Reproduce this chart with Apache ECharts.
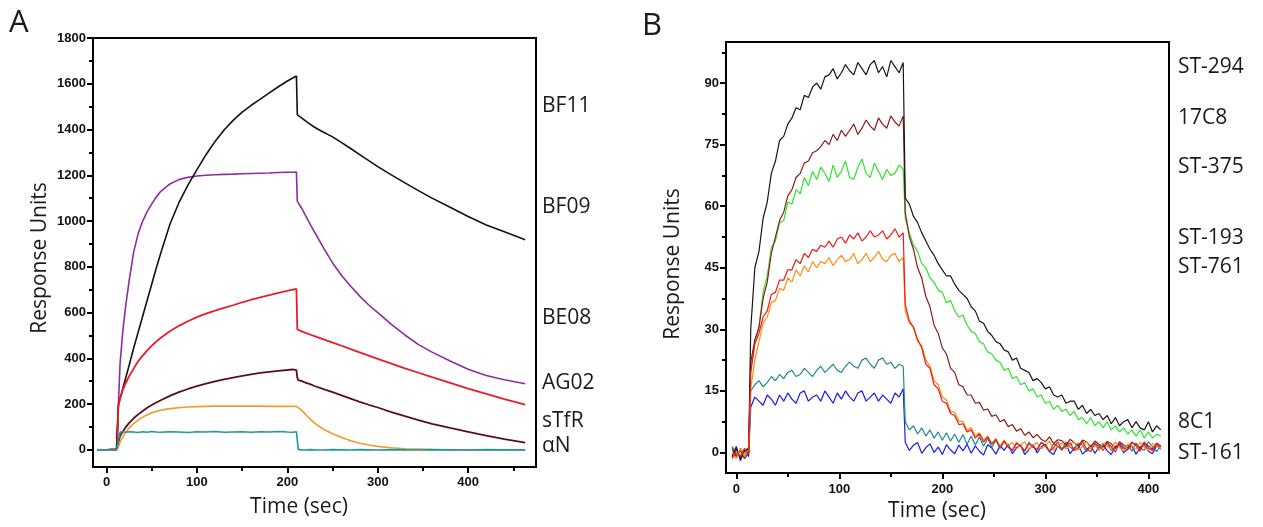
<!DOCTYPE html>
<html><head><meta charset="utf-8">
<script src="https://cdn.jsdelivr.net/npm/echarts@6/dist/echarts.min.js"></script>
<style>html,body{margin:0;padding:0;background:#fff}#c{width:1263px;height:527px}</style>
</head><body><div id="c"></div>
<script>
// ---------- Panel A data (time in sec, response units) ----------
const tA = [-10,0,11,12,13, 15,18,21,25,30, 35,40,45,50,55, 60,70,80,90,100,
  110,120,130,140,150, 160,170,180,190,200, 206,210,211,212,216, 220,225,230,240,250,
  260,270,280,290,300, 315,330,345,360,380, 400,420,440,463];
const BF11 = [0,0,2,10,192, 225,268,312,370,445, 515,585,655,725,795, 860,985,1080,1157,1225,
  1290,1348,1398,1440,1476, 1506,1533,1560,1587,1612, 1625,1634,1464,1461,1450, 1438,1424,1410,1388,1368,
  1343,1317,1290,1264,1238, 1202,1167,1133,1100,1060, 1020,983,953,918];
const BF09 = [0,0,2,10,192, 380,520,625,740,865, 945,1000,1042,1075,1105, 1130,1162,1181,1191,1197,
  1200,1202,1204,1205,1207, 1208,1209,1210,1212,1213, 1213,1214,1086,1080,1055, 1025,988,952,883,817,
  762,715,672,633,600, 548,502,460,427,388, 352,325,306,289];
const BE08 = [0,0,3,12,192, 225,262,290,322,355, 388,412,435,455,473, 490,518,542,562,580,
  595,608,620,632,645, 656,666,676,686,695, 700,703,526,524,518, 511,504,497,483,469,
  455,440,426,412,398, 377,356,337,318,293, 268,245,222,198];
const AG02 = [0,0,0,3,30, 62,80,98,118,138, 155,170,184,196,207, 217,236,252,266,278,
  289,299,308,316,323, 330,336,341,345,349, 352,348,315,305,300, 294,287,279,265,252,
  238,224,210,197,185, 165,147,130,114,96, 79,62,47,32];
const sTfR = [0,0,0,0,10, 35,58,75,95,115, 130,143,153,162,168, 173,180,184,187,189,
  190,191,191,191,191, 191,191,190,190,190, 190,190,189,187,172, 155,135,117,90,70,
  54,40,29,21,15, 9,5,3,1,0, 0,0,0,0];
const aN = [0,0,0,0,40, 78,80,77,79,78, 76,79,77,80,78, 77,79,78,76,79,
  78,80,77,78,79, 77,79,78,80,78, 77,79,78,2,0, -1,1,0,-1,1,
  0,-1,1,0,-1, 1,0,-1,1,0, -1,1,0,0];

// ---------- Panel B data ----------
const tB = [-4,0,4,8,12,
  14,18,22,26,30,34,38,42, 46,50,54,58,62,66,70,74, 78,82,86,90,94,98,102,106,
  110,114,118,122,126,130,134,138, 142,146,150,154,158,162,
  164,168,172,176,180,184,188,192, 196,200,204,208,212,216,220,224,
  228,232,236,240,244,248,252,256, 260,264,268,272,276,280,284,288,
  292,296,300,304,308,312,316,320, 324,328,332,336,340,344,348,352,
  356,360,364,368,372,376,380,384, 388,392,396,400,404,408,412];
const ST294 = [-1,1,-1.5,0.5,1,
  30,45,49,57,61,68,71,76, 77,80,81.5,84,83.5,87,86.5,89, 90,88.5,91.5,92,93.5,91,92.5,94.5,
  93,92,95,93.5,92,94.5,95.5,92.5, 94,91.5,95.5,94,92.5,95,
  62,60.5,57.5,56,53.5,51.5,49.5,48, 46,44.5,43,43,41,39.5,38.5,37.5,
  35.5,34.5,32,31.5,29.5,28.5,27,26.5, 25,24.5,22.5,23,20.5,20,19.5,17.5,
  18,17,15.5,16,14,13.5,14,12, 12.5,12.5,10.5,11.5,9.5,10.5,9,9.5,
  8,9,7,8.5,6.5,7.5,8,6, 7.5,6,5.5,7.5,5,6.5,5.5];
const C17C8 = [1,-1,0.5,-1.5,0,
  22,27.5,30.5,37.5,41.5,48.5,52.5,56.5, 58.5,62.5,64,67,68,70.5,71,73, 73.5,74.5,76,75,77.5,76,78.5,77,
  78.5,80,77.5,79,81,79.5,78.5,81.5, 80,79,82,80.5,79.5,82,
  58.5,52.5,49.5,45,42.5,38,35.5,31, 29,25.5,24,20.5,19.5,16.5,16,14,
  14,12,12.2,10.3,10.6,8.8,9.2,7.5, 8,6.3,6.8,5.2,5.8,4.2,5,3.6,
  4.4,3.2,2.6,3.8,2.2,3.1,2.9,1.8, 3.2,2.4,1.5,3,2.6,1.4,2.8,2,
  1.3,2.7,2.1,1,2.6,1.8,1.2,2.5, 1.9,1,2.4,1.6,0.8,2.3,1.5];
const ST375 = [0.5,-1,1,-0.5,1.5,
  20,26.5,30.5,39,43,50,51.5,56, 56.5,61,60.5,64,63,67,65,68.5, 66.5,69.5,68,66,70,67,68.5,71,
  67,66.5,69.5,71.5,68,67,70.5,68.5, 66.5,69,67.5,68,70,69,
  57,53.5,50.5,49,46,45,42.5,41.5, 39.5,39,36.5,37,34.5,33,33.5,31,
  29.5,29,27,26.5,24.5,24,22.5,22, 20,20.5,18,18.5,16.5,17,15,15.5,
  13.5,14,12,12.5,10.5,11.5,10,10.5, 9,10,8,8.5,7,8.5,6.5,7.5,
  6,7.5,5.5,6.5,5,6,4.5,5.5, 4,5.5,3.5,5,3.5,4.5,4];
const ST193 = [-1.5,0.5,-1,1,-0.5,
  19.5,26.5,29,33,34.5,38.5,39,42, 42,44.5,44.5,47,46,48.5,47.5,49.5, 49,50.5,50,51.5,50,52,52.5,51,
  53,52,53.5,51.5,52.5,54,52.5,53, 54,52,53,54.5,52.5,53.5,
  36,32,30.5,27.5,25.5,21.5,20.5,16.5, 15.5,12.5,12,9.5,9,6.8,7,5,
  5.5,3.5,4.5,2.5,3.8,2,3.2,1.2, 2.8,1.2,0.5,2.4,1.5,0.3,2.2,1.4,
  0.6,2.5,1.8,0.2,1.2,2.6,0.8,1.5, 2.4,0.4,1.1,2.7,0.9,0.2,2.2,1.6,
  0.5,2.3,1.4,0.1,2.5,1.2,0.6,2.4, 1.7,0.3,2.6,1.1,0.4,2.2,1.3];
const ST761 = [0,-1.5,1,-1,0.5,
  15.5,22.5,27,31.5,33,36.5,37,40, 39.5,42.5,41.5,44.5,43,45.5,44,46.5, 45,46.5,46,47.5,45.5,47,48,46.5,
  47,48.5,46,47,48.5,46.5,47.5,49, 47,46.5,48,48.5,46.5,47.5,
  34.5,31.5,30.5,27,26,22.5,21,17.5, 16.5,13.5,12.8,10,9.8,7.6,7.6,5.5,
  6,4,4.8,3,4,2.2,3.4,1.5, 3,1.6,2.5,0.8,1.9,2.6,0.7,1.8,
  2.4,0.9,1.5,2.8,0.5,1.6,2.3,0.8, 1.9,2.6,0.6,1.4,2.7,0.9,1.8,0.4,
  2.3,1.5,0.7,2.6,1.2,0.3,2.1,1.6, 0.8,2.5,1.3,0.5,2.2,1.5,0.9];
const C8C1 = [1.5,-0.5,0.5,-1,1,
  15,16.5,17.5,16,17,18.5,17.5,19, 18,19.5,20,18.5,19,20.5,19.5,18.5, 20,21,19.5,20.5,21.5,20,19.5,21,
  22,21,20.5,22.5,23,21.5,20.5,22.5, 23,21.5,22,20.5,21.5,21,
  7.5,5.5,6.5,4.5,6,4,5.5,3.5, 5,3,4.8,2.8,4.5,2.5,4.4,2,
  4,1.8,3.8,1.5,3.4,1.2,3,1, 2.6,1.4,0.6,2.2,1.7,0.4,2.5,1.2,
  0.8,2.4,1.5,0.3,2.1,1.6,0.5,2.6, 1.3,0.6,2.3,1.8,0.2,1.5,2.4,0.7,
  1.6,2.5,0.4,1.2,2.2,0.8,1.9,0.3, 2.3,1.1,0.5,2.6,1.4,0.2,1.8];
const ST161 = [-1,1.5,-2,0.5,-1,
  11,13.5,12.5,11.5,14,13,11.5,14, 12.5,14.5,13,12,14.5,15,12.5,13.5, 14,12.5,15,13.5,12,14.5,13,15,
  13.5,12.5,14.5,15,12.5,13.5,14.5,12.5, 14,13,12,14.5,13.5,15.5,
  2.5,0.5,1.8,2.4,-0.2,1.2,2.1,0, 1.3,-0.5,1.9,0.6,-0.3,1.8,0.4,2,
  -0.2,1.6,0.3,-0.6,1.9,1.1,-0.4,1.7, 0.5,2,-0.3,1.2,1.8,-0.5,0.7,1.9,
  -0.1,1.4,2,0.2,-0.5,1.6,0.8,2.1, -0.3,1.1,1.9,-0.4,0.6,1.7,-0.2,1.3,
  2,0.4,-0.5,1.5,1.9,-0.1,0.9,1.6, -0.4,1.2,2,0.3,-0.3,1.7,0.8];

// ---------- Tick values ----------
const xMajorA = [0,100,200,300,400];
const xMinorA = [50,150,250,350,450];
const yMajorA = [0,200,400,600,800,1000,1200,1400,1600,1800];
const yMinorA = [100,300,500,700,900,1100,1300,1500,1700];
const xMajorB = [0,100,200,300,400];
const xMinorB = [50,150,250,350];
const yMajorB = [0,15,30,45,60,75,90];
const yMinorB = [7.5,22.5,37.5,52.5,67.5,82.5,97.5];

const labelsA = ['BF11','BF09','BE08','AG02','sTfR','\u03b1N'];
const labelsB = ['ST-294','17C8','ST-375','ST-193','ST-761','8C1','ST-161'];

function zip(t, v){ return t.map((x,i)=>[x, v[i]]); }

const tickFont = {fontFamily:'"Liberation Sans", Arial, sans-serif', fontWeight:'bold', fontSize:13, color:'#111',
  formatter: v => String(v)};
function xAx(grid, min, max, major, minor, margin){
  return [
    {gridIndex:grid, type:'value', min, max, position:'bottom',
     axisLine:{show:true, onZero:false, lineStyle:{color:'#000', width:2}},
     axisTick:{show:true, length:6, customValues:major, lineStyle:{color:'#000', width:2}},
     axisLabel:Object.assign({margin, customValues:major, showMinLabel:true, showMaxLabel:true}, tickFont),
     splitLine:{show:false}},
    {gridIndex:grid, type:'value', min, max, position:'bottom',
     axisLine:{show:false, onZero:false},
     axisTick:{show:true, length:4, customValues:minor, lineStyle:{color:'#000', width:2}},
     axisLabel:{show:false}, splitLine:{show:false}}
  ];
}
function yAx(grid, min, max, major, minor){
  return [
    {gridIndex:grid, type:'value', min, max, position:'left',
     axisLine:{show:true, onZero:false, lineStyle:{color:'#000', width:2}},
     axisTick:{show:true, length:6, customValues:major, lineStyle:{color:'#000', width:2}},
     axisLabel:Object.assign({margin:7, customValues:major}, tickFont),
     splitLine:{show:false}},
    {gridIndex:grid, type:'value', min, max, position:'left',
     axisLine:{show:false, onZero:false},
     axisTick:{show:true, length:4, customValues:minor, lineStyle:{color:'#000', width:2}},
     axisLabel:{show:false}, splitLine:{show:false}}
  ];
}

function line(name, xi, yi, t, v, color, w){
  return {name, type:'line', xAxisIndex:xi, yAxisIndex:yi, data:zip(t, v), showSymbol:false,
    symbol:'none', lineStyle:{color, width:w}, itemStyle:{color}, silent:true, animation:false};
}

const seriesA = [
  line('BF09', 0, 0, tA, BF09, '#8e2ca0', 1.6),
  line('BF11', 0, 0, tA, BF11, '#111111', 1.6),
  line('BE08', 0, 0, tA, BE08, '#ea1c2a', 1.8),
  line('AG02', 0, 0, tA, AG02, '#5c0f1a', 1.8),
  line('sTfR', 0, 0, tA, sTfR, '#f59a2a', 1.6),
  line('\u03b1N', 0, 0, tA, aN, '#1f9a9a', 1.6)
];
const seriesB = [
  line('ST-161', 2, 2, tB, ST161, '#1a1aee', 1.2),
  line('8C1', 2, 2, tB, C8C1, '#228a8a', 1.2),
  line('ST-375', 2, 2, tB, ST375, '#2ee42e', 1.2),
  line('17C8', 2, 2, tB, C17C8, '#8c1c1c', 1.2),
  line('ST-294', 2, 2, tB, ST294, '#151515', 1.2),
  line('ST-761', 2, 2, tB, ST761, '#ff8c10', 1.2),
  line('ST-193', 2, 2, tB, ST193, '#f01818', 1.2)
];

const txtFont = '21px "Open Sans", "Noto Sans", sans-serif';
function label(text, x, y, font){
  return {type:'text', x, y, silent:true,
    style:{text, font: font || txtFont, fill:'#1a1a1a', textAlign:'left', textVerticalAlign:'middle', align:'left', verticalAlign:'middle'}};
}
const posA = [106,207,318,383,421,446];
const posB = [67,118,167,238,267,422,453];
const graphics = [];
labelsA.forEach((s,i)=>graphics.push(label(s, 542, posA[i])));
labelsB.forEach((s,i)=>graphics.push(label(s, 1178, posB[i])));
graphics.push(label('A', 9, 23, '31px "Open Sans", "Noto Sans", sans-serif'));
graphics.push(label('B', 642, 26, '31px "Open Sans", "Noto Sans", sans-serif'));
function title(text, x, y, rot){
  return {type:'text', x, y, rotation: rot || 0, silent:true,
    style:{text, font:'21px "Open Sans", "Noto Sans", sans-serif', fill:'#1a1a1a', textAlign:'center', textVerticalAlign:'middle', align:'center', verticalAlign:'middle'}};
}
graphics.push(title('Response Units', 40, 258, Math.PI/2));
graphics.push(title('Response Units', 673, 264, Math.PI/2));
graphics.push(title('Time (sec)', 299, 507));
graphics.push(title('Time (sec)', 937, 511));

const chart = echarts.init(document.getElementById('c'), null, {renderer:'canvas'});
chart.setOption({
  animation:false,
  backgroundColor:'#ffffff',
  grid:[
    {left:93, top:38, width:443, height:429, show:true, borderColor:'#000', borderWidth:2, backgroundColor:'transparent'},
    {left:726, top:42, width:443, height:431, show:true, borderColor:'#000', borderWidth:2, backgroundColor:'transparent'}
  ],
  xAxis: [].concat(xAx(0, -15, 475, xMajorA, xMinorA, 9), xAx(1, -10, 420, xMajorB, xMinorB, 10)),
  yAxis: [].concat(yAx(0, -75, 1800, yMajorA, yMinorA), yAx(1, -5, 100, yMajorB, yMinorB)),
  series: seriesA.concat(seriesB),
  graphic: graphics
});
</script></body></html>
